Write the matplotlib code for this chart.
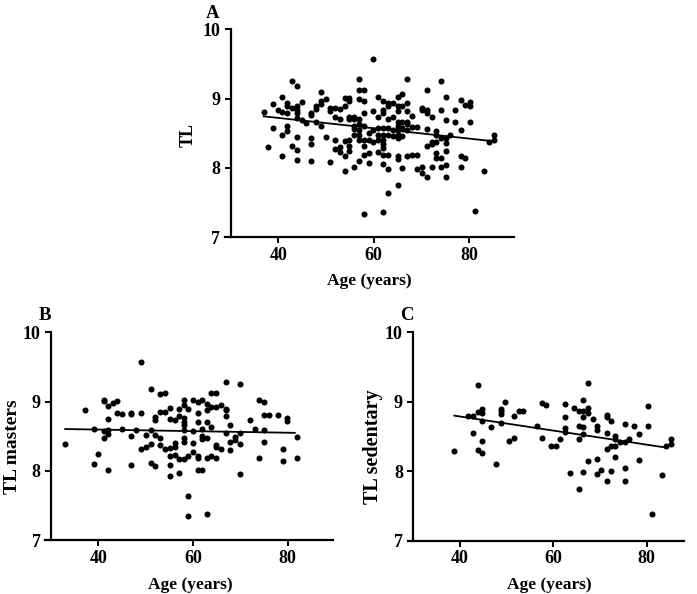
import numpy as np
import matplotlib
matplotlib.use('Agg')
import matplotlib.pyplot as plt

# ---------------- data ----------------
# Panel A: all subjects
age_a = [
    36.9,
    37.9,
    38.9, 38.9,
    39.9,
    40.8, 40.8, 40.8, 40.8,
    41.9, 41.9, 41.9, 41.9, 41.9,
    42.9, 42.9, 42.9,
    43.9, 43.9, 43.9, 43.9, 43.9, 43.9, 43.9, 43.9,
    44.9, 44.9,
    45.9,
    46.9, 46.9, 46.9, 46.9, 46.9,
    47.9, 47.9, 47.9,
    48.9, 48.9, 48.9, 48.9,
    49.9, 49.9,
    50.9, 50.9, 50.9,
    51.9, 51.9, 51.9, 51.9,
    52.9, 52.9, 52.9, 52.9,
    53.9, 53.9, 53.9, 53.9, 53.9,
    54.9, 54.9, 54.9, 54.9, 54.9, 54.9, 54.9,
    55.9, 55.9, 55.9, 55.9, 55.9, 55.9,
    56.9, 56.9, 56.9, 56.9, 56.9, 56.9, 56.9, 56.9, 56.9,
    57.9, 57.9, 57.9, 57.9, 57.9, 57.9, 57.9, 57.9,
    59.0, 59.0, 59.0, 59.0,
    59.9, 59.9, 59.9, 59.9,
    61.0, 61.0, 61.0, 61.0, 61.0, 61.0,
    62.0, 62.0, 62.0, 62.0, 62.0, 62.0, 62.0, 62.0, 62.0, 62.0, 62.0,
    63.0, 63.0, 63.0, 63.0, 63.0, 63.0, 63.0, 63.0,
    64.0, 64.0, 64.0, 64.0,
    65.0, 65.0, 65.0, 65.0, 65.0, 65.0, 65.0, 65.0, 65.0, 65.0, 65.0,
    66.0, 66.0, 66.0, 66.0, 66.0, 66.0,
    67.0, 67.0, 67.0, 67.0, 67.0, 67.0, 67.0,
    68.0, 68.0, 68.0,
    69.0, 69.0, 69.0,
    70.1, 70.1, 70.1, 70.1,
    71.1, 71.1, 71.1, 71.1, 71.1, 71.1,
    72.2, 72.2, 72.2, 72.2,
    73.1, 73.1, 73.1, 73.1, 73.1,
    74.1, 74.1, 74.1, 74.1, 74.1,
    75.1, 75.1, 75.1, 75.1, 75.1, 75.1, 75.1,
    76.1,
    77.1, 77.1,
    78.2, 78.2, 78.2, 78.2,
    79.1, 79.1,
    80.2, 80.2, 80.2,
    81.2,
    83.2,
    84.2,
    85.2, 85.2,
]
tl_a = [
    8.81,
    8.30,
    8.92, 8.57,
    8.83,
    9.03, 8.81, 8.48, 8.17,
    8.94, 8.89, 8.80, 8.60, 8.54,
    9.25, 8.86, 8.31,
    9.18, 8.90, 8.84, 8.80, 8.72, 8.45, 8.26, 8.12,
    8.95, 8.69,
    8.65,
    8.80, 8.77, 8.43, 8.34, 8.10,
    8.89, 8.85, 8.66,
    9.10, 8.97, 8.92, 8.61,
    9.00, 8.45,
    8.87, 8.82, 8.08,
    8.87, 8.73, 8.41, 8.27,
    8.85, 8.70, 8.30, 8.23,
    9.01, 8.90, 8.39, 8.17, 7.96,
    9.01, 8.97, 8.73, 8.70, 8.41, 8.32, 8.25,
    8.73, 8.70, 8.61, 8.56, 8.48, 8.01,
    9.28, 9.12, 8.99, 8.70, 8.63, 8.55, 8.48, 8.41, 8.10,
    9.13, 8.96, 8.79, 8.60, 8.41, 8.31, 8.18, 7.34,
    8.50, 8.41, 8.22, 8.07,
    9.57, 8.82, 8.55, 8.38,
    9.03, 8.74, 8.58, 8.48, 8.41, 8.23,
    8.97, 8.84, 8.79, 8.58, 8.48, 8.41, 8.34, 8.29, 8.19, 8.06, 7.37,
    8.94, 8.89, 8.70, 8.58, 8.48, 8.19, 7.98, 7.64,
    8.94, 8.74, 8.55, 8.46,
    9.02, 8.89, 8.82, 8.67, 8.60, 8.55, 8.48, 8.43, 8.17, 8.13, 7.76,
    9.06, 8.89, 8.67, 8.58, 8.46, 8.00,
    9.28, 8.94, 8.82, 8.67, 8.63, 8.55, 8.17,
    8.75, 8.59, 8.19,
    8.59, 8.19, 7.98,
    8.86, 8.83, 8.02, 7.93,
    9.12, 8.83, 8.80, 8.56, 8.32, 7.87,
    8.74, 8.37, 8.35, 8.02,
    8.53, 8.48, 8.37, 8.22, 8.14,
    9.26, 8.84, 8.43, 8.14, 8.02,
    9.03, 8.69, 8.43, 8.36, 8.24, 8.05, 7.87,
    8.47,
    8.83, 8.66,
    8.98, 8.55, 8.17, 8.01,
    8.91, 8.14,
    8.95, 8.89, 8.67,
    7.38,
    7.96,
    8.37,
    8.47, 8.40,
]
fit_a_age = [36.9, 84.5]
fit_a_tl = [8.745, 8.39]

# Panel B: masters
age_b = [
    33.0,
    37.1,
    39.0, 39.0,
    40.0,
    41.1, 41.1, 41.1, 41.1,
    42.1, 42.1, 42.1, 42.1, 42.1,
    43.0,
    44.0, 44.0,
    45.0, 45.0,
    47.0, 47.0, 47.0, 47.0,
    48.0,
    49.0, 49.0, 49.0,
    50.0, 50.0,
    51.1, 51.1, 51.1, 51.1,
    52.0, 52.0, 52.0, 52.0,
    53.1, 53.1, 53.1, 53.1,
    54.1, 54.1, 54.1,
    55.1, 55.1, 55.1, 55.1, 55.1, 55.1,
    56.1, 56.1, 56.1, 56.1,
    57.0, 57.0, 57.0, 57.0,
    58.0, 58.0, 58.0, 58.0, 58.0, 58.0, 58.0, 58.0, 58.0,
    59.0, 59.0, 59.0, 59.0,
    60.0, 60.0, 60.0, 60.0,
    61.0, 61.0, 61.0, 61.0, 61.0, 61.0,
    62.0, 62.0, 62.0, 62.0, 62.0,
    63.0, 63.0, 63.0, 63.0, 63.0, 63.0,
    63.9, 63.9, 63.9, 63.9,
    64.9, 64.9, 64.9, 64.9, 64.9,
    65.9, 65.9,
    66.9, 66.9, 66.9, 66.9, 66.9,
    67.9, 67.9, 67.9,
    68.9, 68.9,
    69.9, 69.9, 69.9, 69.9,
    72.0,
    73.0,
    74.0, 74.0,
    75.0, 75.0, 75.0, 75.0,
    76.0,
    78.0,
    79.0, 79.0,
    79.9, 79.9,
    81.9, 81.9,
]
tl_b = [
    8.39,
    8.88,
    8.61, 8.10,
    8.24,
    9.03, 9.01, 8.57, 8.48,
    8.94, 8.75, 8.59, 8.54, 8.02,
    8.98,
    9.01, 8.84,
    8.82, 8.61,
    8.84, 8.82, 8.50, 8.08,
    8.59,
    9.57, 8.84, 8.31,
    8.52, 8.35,
    9.18, 8.59, 8.39, 8.12,
    8.78, 8.74, 8.52, 8.07,
    9.11, 8.85, 8.47, 8.38,
    9.12, 8.85, 8.32,
    8.91, 8.75, 8.33, 8.22, 8.08, 7.93,
    8.73, 8.41, 8.35, 8.23,
    8.89, 8.79, 8.17, 7.97,
    9.03, 8.95, 8.76, 8.71, 8.66, 8.59, 8.47, 8.42, 8.17,
    8.89, 8.21, 7.64, 7.35,
    9.03, 8.57, 8.40, 8.28,
    8.99, 8.84, 8.70, 8.22, 8.19, 8.02,
    9.02, 8.60, 8.51, 8.46, 8.02,
    8.96, 8.88, 8.70, 8.47, 8.19, 7.38,
    9.12, 8.93, 8.64, 8.21,
    9.13, 8.93, 8.38, 8.34, 8.18,
    8.95, 8.31,
    9.29, 8.90, 8.88, 8.79, 8.55,
    8.66, 8.42, 8.30,
    8.49, 8.44,
    9.26, 8.55, 8.39, 7.96,
    8.73,
    8.60,
    9.02, 8.18,
    8.99, 8.81, 8.59, 8.42,
    8.81,
    8.81,
    8.31, 8.14,
    8.76, 8.72,
    8.49, 8.19,
]
fit_b_age = [33.0, 81.5]
fit_b_tl = [8.605, 8.55]

# Panel C: sedentary
age_c = [
    38.8,
    41.8,
    42.8, 42.8,
    43.8, 43.8, 43.8,
    44.8, 44.8, 44.8, 44.8, 44.8,
    46.7,
    47.7,
    48.7, 48.7, 48.7, 48.7,
    49.6,
    50.6,
    51.6, 51.6,
    52.6,
    53.6,
    56.6,
    57.5, 57.5,
    58.5,
    59.5,
    60.5,
    61.5,
    62.5, 62.5, 62.5, 62.5,
    63.5,
    64.5,
    65.5, 65.5, 65.5, 65.5,
    66.4, 66.4, 66.4, 66.4, 66.4, 66.4,
    67.4, 67.4, 67.4, 67.4,
    68.4,
    69.3, 69.3, 69.3, 69.3,
    70.3,
    71.4, 71.4, 71.4, 71.4, 71.4,
    72.4, 72.4, 72.4,
    73.3, 73.3, 73.3, 73.3,
    74.3,
    75.3, 75.3, 75.3, 75.3,
    76.3,
    77.3,
    78.3, 78.3,
    80.3, 80.3,
    81.2,
    83.2,
    84.2,
    85.2, 85.2,
]
tl_c = [
    8.29,
    8.79,
    8.80, 8.55,
    9.24, 8.85, 8.31,
    8.89, 8.84, 8.73, 8.44, 8.26,
    8.64,
    8.10,
    8.89, 8.86, 8.83, 8.69,
    8.99,
    8.44,
    8.80, 8.48,
    8.86,
    8.86,
    8.65,
    8.98, 8.48,
    8.95,
    8.37,
    8.37,
    8.47,
    8.97, 8.78, 8.62, 8.57,
    7.97,
    8.91,
    8.87, 8.65, 8.46, 7.75,
    9.03, 8.87, 8.78, 8.64, 8.53, 7.99,
    9.27, 8.91, 8.84, 8.15,
    8.75,
    8.65, 8.60, 8.17, 7.96,
    8.02,
    8.81, 8.78, 8.55, 8.32, 7.86,
    8.73, 8.37, 8.01,
    8.51, 8.47, 8.37, 8.21,
    8.42,
    8.68, 8.42, 8.04, 7.86,
    8.46,
    8.65,
    8.54, 8.16,
    8.94, 8.65,
    7.38,
    7.95,
    8.36,
    8.46, 8.39,
]
fit_c_age = [38.8, 84.2]
fit_c_tl = [8.80, 8.34]

y_ticks = [7, 8, 9, 10]
x_ticks = [40, 60, 80]
x_label = 'Age (years)'

# ---------------- drawing ----------------
plt.rcParams['font.family'] = ['Liberation Serif', 'DejaVu Serif']
plt.rcParams['font.weight'] = 'bold'

W, H = 697, 594
fig = plt.figure(figsize=(W / 100, H / 100), dpi=100)


def px_axes(x0, x1, ytop, ybot):
    return fig.add_axes([x0 / W, (H - ybot) / H, (x1 - x0) / W, (ybot - ytop) / H])


def style(ax, xlim, ylab, ylab_xy, xlab_xy, ylab_size):
    ax.set_xlim(*xlim)
    ax.set_ylim(7, 10)
    ax.spines['top'].set_visible(False)
    ax.spines['right'].set_visible(False)
    ax.spines['left'].set_position(('data', 30))
    for s in ('left', 'bottom'):
        ax.spines[s].set_linewidth(1.6)
    ax.set_xticks(x_ticks)
    ax.set_yticks(y_ticks)
    ax.tick_params(direction='out', length=4.5, width=1.4, labelsize=13)
    ax.tick_params(axis='y', pad=3)
    ax.tick_params(axis='x', pad=2.5)
    for lab in ax.get_xticklabels() + ax.get_yticklabels():
        lab.set_fontweight('bold')
    ax.set_ylabel(ylab, fontsize=ylab_size, fontweight='bold')
    ax.yaxis.set_label_coords(*ylab_xy)
    ax.set_xlabel(x_label, fontsize=12.5, fontweight='bold', va='top')
    ax.xaxis.set_label_coords(*xlab_xy)


def panel(ax, ages, tls, fx, fy):
    ax.scatter(ages, tls, s=19, c='black', linewidths=0, zorder=3)
    ax.plot(fx, fy, color='black', lw=1.3, zorder=4)


axA = px_axes(224.9, 514.4, 29.3, 237.3)
panel(axA, age_a, tl_a, fit_a_age, fit_a_tl)
style(axA, (28.8, 89.5), 'TL', (-0.098, 0.49), (0.5, -0.17), 13)

axB = px_axes(45.3, 332.7, 332.4, 540.2)
panel(axB, age_b, tl_b, fit_b_age, fit_b_tl)
style(axB, (28.8, 89.5), 'TL masters', (-0.086, 0.45), (0.503, -0.175), 14)

axC = px_axes(407.7, 684.0, 332.3, 540.7)
panel(axC, age_c, tl_c, fit_c_age, fit_c_tl)
style(axC, (28.8, 88.0), 'TL sedentary', (-0.088, 0.45), (0.511, -0.175), 14.5)

fig.text(213 / W, 1 - 13 / H, 'A', fontsize=13.5, fontweight='bold', ha='center', va='center')
fig.text(45 / W, 1 - 315 / H, 'B', fontsize=13.5, fontweight='bold', ha='center', va='center')
fig.text(407 / W, 1 - 315 / H, 'C', fontsize=13.5, fontweight='bold', ha='center', va='center')

fig.savefig('out.png', dpi=100)
